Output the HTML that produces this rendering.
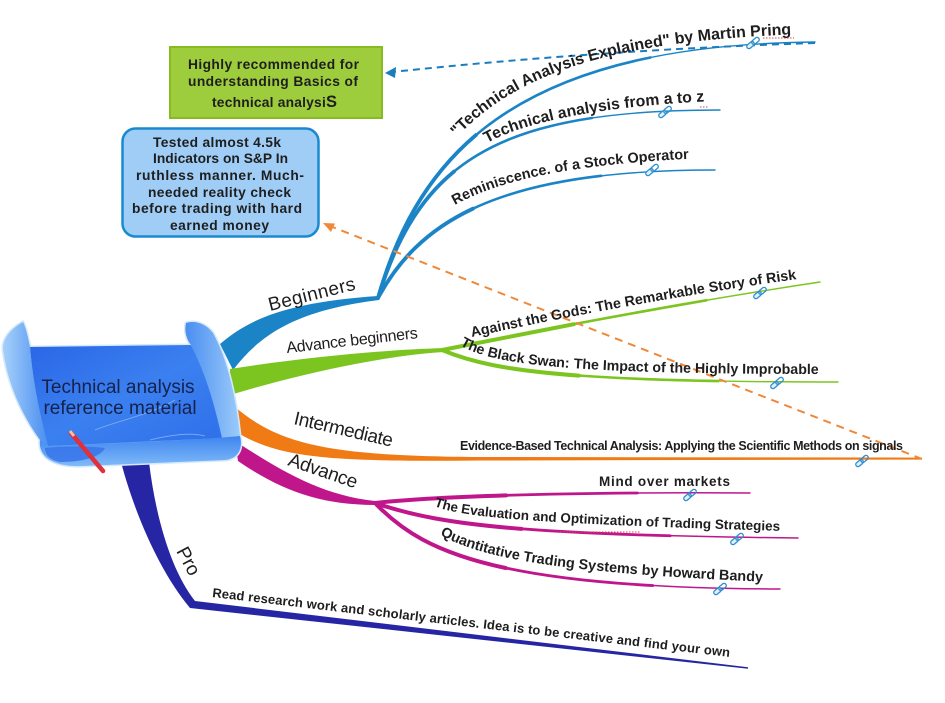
<!DOCTYPE html>
<html><head><meta charset="utf-8">
<style>
html,body{margin:0;padding:0;background:#fff;}
svg{display:block;}
text{font-family:"Liberation Sans",Arial,sans-serif;fill:#1e1e1e;}
.b{font-weight:bold;}
</style></head><body>
<svg width="945" height="703" viewBox="0 0 945 703" xmlns="http://www.w3.org/2000/svg">
<defs>
 <linearGradient id="body" x1="0" y1="0" x2="1" y2="1">
  <stop offset="0" stop-color="#2a66e6"/><stop offset="0.5" stop-color="#3b80f0"/><stop offset="1" stop-color="#2e6fe9"/>
 </linearGradient>
 <linearGradient id="curlL" x1="0" y1="0" x2="1" y2="0">
  <stop offset="0" stop-color="#a6d0fa"/><stop offset="1" stop-color="#4a8ef0"/>
 </linearGradient>
 <linearGradient id="curlR" x1="0" y1="0" x2="1" y2="0">
  <stop offset="0" stop-color="#4a8ef0"/><stop offset="1" stop-color="#9ccbfa"/>
 </linearGradient>
 <linearGradient id="roll" x1="0" y1="0" x2="0" y2="1">
  <stop offset="0" stop-color="#3f84ef"/><stop offset="1" stop-color="#7fbaf8"/>
 </linearGradient>
 <path id="t1" d="M457,137 C520,70 620,40 805,34"/>
 <path id="t2" d="M487,143 C525,122 600,106 715,101"/>
 <path id="t3" d="M455,205 C500,180 570,164 705,158"/>
 <path id="t4" d="M472,337 C560,318 680,295 805,278"/>
 <path id="t5" d="M460,345 C490,364 560,374 826,374"/>
 <path id="t6" d="M434,506 C460,516 510,523 785,531"/>
 <path id="t7" d="M440,535 C480,556 540,572 770,582"/>
</defs>

<!-- Beginners branch -->
<path d="M220,344 C250,318 290,302 378,296 L379,300 C300,310 262,332 233,370 Z" fill="#1b84c6"/>
<g fill="none" stroke="#1b84c6" stroke-linecap="round">
 <path d="M378,298 C420,150 520,45 815,42" stroke-width="1.4"/>
 <path d="M378,298 C420,150 520,45 815,42" stroke-width="2.6" pathLength="100" stroke-dasharray="70 200"/>
 <path d="M378,298 C420,150 520,45 815,42" stroke-width="3.8" pathLength="100" stroke-dasharray="35 200"/>
 <path d="M378,298 C420,160 500,110 720,110" stroke-width="1.4"/>
 <path d="M378,298 C420,160 500,110 720,110" stroke-width="2.6" pathLength="100" stroke-dasharray="70 200"/>
 <path d="M378,298 C420,160 500,110 720,110" stroke-width="3.8" pathLength="100" stroke-dasharray="35 200"/>
 <path d="M378,298 C420,220 500,170 715,170" stroke-width="1.4"/>
 <path d="M378,298 C420,220 500,170 715,170" stroke-width="2.6" pathLength="100" stroke-dasharray="70 200"/>
 <path d="M378,298 C420,220 500,170 715,170" stroke-width="3.8" pathLength="100" stroke-dasharray="35 200"/>
</g>

<!-- Advance beginners branch -->
<path d="M230,369 C300,358 380,350 444,348 L444,352 C380,356 300,374 230,395 Z" fill="#7cc520"/>
<g fill="none" stroke="#7cc520" stroke-linecap="round">
 <path d="M442,350 C560,326 700,300 820,282" stroke-width="1.4"/>
 <path d="M442,350 C560,326 700,300 820,282" stroke-width="2.6" pathLength="100" stroke-dasharray="70 200"/>
 <path d="M442,350 C560,326 700,300 820,282" stroke-width="4" pathLength="100" stroke-dasharray="35 200"/>
 <path d="M442,350 C490,370 560,382 838,382" stroke-width="1.4"/>
 <path d="M442,350 C490,370 560,382 838,382" stroke-width="2.6" pathLength="100" stroke-dasharray="70 200"/>
 <path d="M442,350 C490,370 560,382 838,382" stroke-width="4" pathLength="100" stroke-dasharray="35 200"/>
</g>

<!-- Intermediate branch -->
<path d="M235,407 C280,445 330,456 480,457 L922,457.6 L922,459.6 L480,460.5 C330,462 280,458 238,433 Z" fill="#f07a14"/>

<!-- Advance branch -->
<path d="M235,441 C280,470 320,495 375,501 L375,505 C320,505 280,490 238,461 Z" fill="#c0168c"/>
<g fill="none" stroke="#c0168c" stroke-linecap="round">
 <path d="M375,503 C450,495 600,492 750,493" stroke-width="1.5"/>
 <path d="M375,503 C450,495 600,492 750,493" stroke-width="2.8" pathLength="100" stroke-dasharray="70 200"/>
 <path d="M375,503 C450,495 600,492 750,493" stroke-width="4" pathLength="100" stroke-dasharray="35 200"/>
 <path d="M375,503 C440,525 520,535 798,538" stroke-width="1.5"/>
 <path d="M375,503 C440,525 520,535 798,538" stroke-width="2.8" pathLength="100" stroke-dasharray="70 200"/>
 <path d="M375,503 C440,525 520,535 798,538" stroke-width="4" pathLength="100" stroke-dasharray="35 200"/>
 <path d="M375,503 C420,550 490,588 780,589" stroke-width="1.5"/>
 <path d="M375,503 C420,550 490,588 780,589" stroke-width="2.8" pathLength="100" stroke-dasharray="70 200"/>
 <path d="M375,503 C420,550 490,588 780,589" stroke-width="4" pathLength="100" stroke-dasharray="35 200"/>
</g>

<!-- Pro branch -->
<path d="M121,462 L149,462 C156,520 172,572 195,601 L748,667.2 L748,668.8 L190,608 C160,572 135,515 121,462 Z" fill="#2626a4"/>

<!-- Dashed connectors -->
<path d="M815,43 Q600,50 392,72" fill="none" stroke="#1a7dc0" stroke-width="2" stroke-dasharray="7 5"/>
<polygon points="385,73 396,67 395,78" fill="#1a7dc0"/>
<path d="M922,459 L330,226" fill="none" stroke="#f0883a" stroke-width="2" stroke-dasharray="8 6"/>
<polygon points="323,223 335,223.5 331,232" fill="#f0883a"/>

<!-- Central scroll -->
<path d="M23,322 C12,328 2,338 3,350 C8,385 22,415 40,440 C38,456 52,467 82,466 L226,460 C239,458 243,448 240,436 C236,398 228,360 213,333 C206,324 196,320 186,323 C184,332 187,340 191,345 L30,347 C28,337 26,328 23,322 Z" fill="#6aaaf6" stroke="#d4e9ff" stroke-width="3"/>
<path d="M30,347 L191,345 C205,372 214,402 222,438 L48,446 C40,415 33,383 30,347 Z" fill="url(#body)"/>
<path d="M23,322 C12,328 2,338 3,350 C8,385 22,415 40,440 L48,446 C40,415 33,383 30,347 C28,337 26,328 23,322 Z" fill="url(#curlL)"/>
<path d="M186,323 C196,320 206,324 213,333 C228,360 236,398 240,436 L222,438 C214,402 205,372 191,345 C187,340 184,332 186,323 Z" fill="url(#curlR)"/>
<path d="M40,440 C38,456 52,467 82,466 L226,460 C239,458 243,448 240,436 C200,440 100,444 48,446 Z" fill="url(#roll)"/>
<path d="M45,448 C60,446 90,446 105,448 C100,458 80,462 60,462 C50,460 45,455 45,448 Z" fill="#3570e8" opacity="0.8"/>
<g stroke="#cfe3ff" stroke-width="0.8" fill="none" opacity="0.5">
 <path d="M95,430 C120,420 150,415 175,400"/>
 <path d="M150,440 C170,435 190,432 205,436"/>
</g>
<text x="118" y="393" font-size="19" text-anchor="middle" style="fill:#16224a">Technical analysis</text>
<text x="120" y="414" font-size="19" text-anchor="middle" style="fill:#16224a">reference material</text>
<line x1="71" y1="433" x2="103" y2="471" stroke="#e0303a" stroke-width="4.5" stroke-linecap="round"/>
<line x1="70" y1="431" x2="74" y2="436" stroke="#f4c0a0" stroke-width="3"/>

<!-- Callouts -->
<rect x="170" y="47" width="212" height="71" fill="#9dcc3c" stroke="#86bb22" stroke-width="2"/>
<text class="b" font-size="13.8" x="188" y="69" textLength="171">Highly recommended for</text>
<text class="b" font-size="13.8" x="188" y="86" textLength="170">understanding Basics of</text>
<text class="b" font-size="13.8" x="212" y="107" textLength="125">technical analysi<tspan font-size="16.5">S</tspan></text>

<rect x="122.5" y="128.5" width="196" height="108" rx="13" fill="#9fcdf6" stroke="#1a8ad0" stroke-width="2.5"/>
<text class="b" font-size="13.8" x="153" y="147" textLength="128">Tested almost 4.5k</text>
<text class="b" font-size="13.8" x="153" y="163" textLength="135">Indicators on S&amp;P In</text>
<text class="b" font-size="13.8" x="136" y="180" textLength="168">ruthless manner. Much-</text>
<text class="b" font-size="13.8" x="148" y="197" textLength="143">needed reality check</text>
<text class="b" font-size="13.8" x="132" y="213" textLength="170">before trading with hard</text>
<text class="b" font-size="13.8" x="170" y="230" textLength="99">earned money</text>

<!-- Main branch labels -->
<text x="270" y="311" font-size="19" textLength="89" transform="rotate(-14 270 311)">Beginners</text>
<text x="287" y="353" font-size="16" textLength="132" transform="rotate(-6.5 287 353)">Advance beginners</text>
<text x="293" y="424" font-size="19" textLength="101" transform="rotate(13 293 424)">Intermediate</text>
<text x="287" y="465" font-size="19" textLength="72" transform="rotate(19 287 465)">Advance</text>
<text x="176" y="551" font-size="19" transform="rotate(62 176 551)">Pro</text>

<!-- Leaf labels -->
<text class="b" font-size="16"><textPath href="#t1">"Technical Analysis Explained" by Martin Pring</textPath></text>
<text class="b" font-size="15.8"><textPath href="#t2">Technical analysis from a to z</textPath></text>
<text class="b" font-size="14.5"><textPath href="#t3">Reminiscence. of a Stock Operator</textPath></text>
<text class="b" font-size="14.3"><textPath href="#t4">Against the Gods: The Remarkable Story of Risk</textPath></text>
<text class="b" font-size="14.2"><textPath href="#t5">The Black Swan: The Impact of the Highly Improbable</textPath></text>
<text class="b" font-size="12.5" x="460" y="450" textLength="443">Evidence-Based Technical Analysis: Applying the Scientific Methods on signals</text>
<text class="b" font-size="13.5" x="599" y="486" textLength="131">Mind over markets</text>
<text class="b" font-size="13.5"><textPath href="#t6">The Evaluation and Optimization of Trading Strategies</textPath></text>
<text class="b" font-size="14.4"><textPath href="#t7">Quantitative Trading Systems by Howard Bandy</textPath></text>
<text class="b" font-size="13" x="212" y="597" textLength="521" transform="rotate(6.6 212 597)">Read research work and scholarly articles. Idea is to be creative and find your own</text>

<!-- red dotted underlines -->
<g stroke="#e04040" stroke-width="1" stroke-dasharray="1.5 1.5">
 <line x1="763" y1="38" x2="794" y2="38"/>
 <line x1="700" y1="107" x2="708" y2="107"/>
 <line x1="560" y1="532" x2="640" y2="532"/>
</g>

<!-- chain icons -->
<g fill="#dff0fb" stroke="#2d8fcf" stroke-width="1.3">
 <g transform="translate(753,43) rotate(-40)"><rect x="-7.5" y="-2.2" width="8.5" height="4.4" rx="2.2"/><rect x="-1" y="-2.2" width="8.5" height="4.4" rx="2.2" fill="none"/></g>
 <g transform="translate(665,112) rotate(-40)"><rect x="-7.5" y="-2.2" width="8.5" height="4.4" rx="2.2"/><rect x="-1" y="-2.2" width="8.5" height="4.4" rx="2.2" fill="none"/></g>
 <g transform="translate(652,170) rotate(-40)"><rect x="-7.5" y="-2.2" width="8.5" height="4.4" rx="2.2"/><rect x="-1" y="-2.2" width="8.5" height="4.4" rx="2.2" fill="none"/></g>
 <g transform="translate(760,293) rotate(-40)"><rect x="-7.5" y="-2.2" width="8.5" height="4.4" rx="2.2"/><rect x="-1" y="-2.2" width="8.5" height="4.4" rx="2.2" fill="none"/></g>
 <g transform="translate(777,383) rotate(-40)"><rect x="-7.5" y="-2.2" width="8.5" height="4.4" rx="2.2"/><rect x="-1" y="-2.2" width="8.5" height="4.4" rx="2.2" fill="none"/></g>
 <g transform="translate(862,461) rotate(-40)"><rect x="-7.5" y="-2.2" width="8.5" height="4.4" rx="2.2"/><rect x="-1" y="-2.2" width="8.5" height="4.4" rx="2.2" fill="none"/></g>
 <g transform="translate(690,495) rotate(-40)"><rect x="-7.5" y="-2.2" width="8.5" height="4.4" rx="2.2"/><rect x="-1" y="-2.2" width="8.5" height="4.4" rx="2.2" fill="none"/></g>
 <g transform="translate(737,539) rotate(-40)"><rect x="-7.5" y="-2.2" width="8.5" height="4.4" rx="2.2"/><rect x="-1" y="-2.2" width="8.5" height="4.4" rx="2.2" fill="none"/></g>
 <g transform="translate(720,589) rotate(-40)"><rect x="-7.5" y="-2.2" width="8.5" height="4.4" rx="2.2"/><rect x="-1" y="-2.2" width="8.5" height="4.4" rx="2.2" fill="none"/></g>
</g>
</svg>
</body></html>
